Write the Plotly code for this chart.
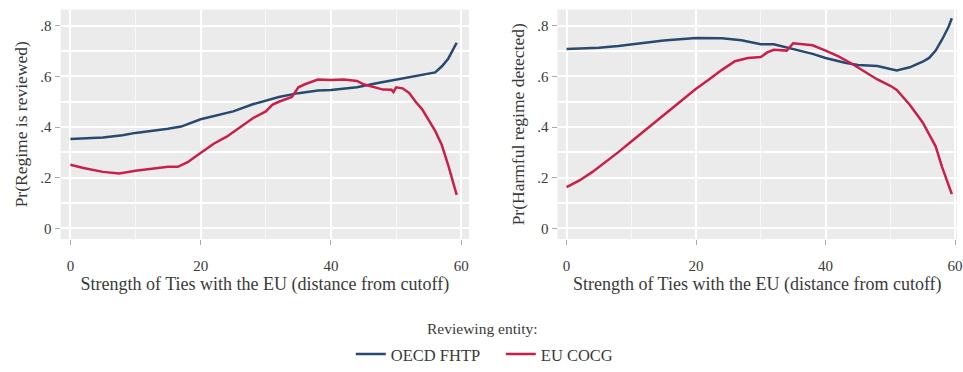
import plotly.graph_objects as go

# Left panel: Pr(Regime is reviewed)
l_oecd_x = [0, 5, 8, 10, 15, 17, 20, 25, 28, 30, 32, 35, 38, 40, 44, 47, 50, 53, 56, 57, 58, 59.3]
l_oecd_y = [0.353, 0.359, 0.368, 0.377, 0.393, 0.402, 0.431, 0.462, 0.490, 0.503, 0.519, 0.534, 0.544,
            0.546, 0.557, 0.573, 0.588, 0.601, 0.616, 0.639, 0.670, 0.733]
l_eu_x = [0, 2, 5, 7.5, 10, 13, 15, 16.5, 18, 19, 20, 21, 22, 24, 26, 28, 30, 31, 32, 34, 35, 36, 38, 40,
          42, 44, 45, 47, 48, 49.3, 49.6, 50, 51, 52, 53, 54, 55, 56, 57, 58, 59.3]
l_eu_y = [0.251, 0.238, 0.223, 0.217, 0.227, 0.238, 0.243, 0.243, 0.261, 0.280, 0.299, 0.317, 0.334,
          0.362, 0.400, 0.435, 0.462, 0.488, 0.500, 0.519, 0.557, 0.569, 0.588, 0.586, 0.588, 0.582,
          0.569, 0.553, 0.548, 0.547, 0.538, 0.557, 0.553, 0.535, 0.500, 0.470, 0.430, 0.385, 0.330,
          0.250, 0.132]

# Right panel: Pr(Harmful regime detected)
r_oecd_x = [0, 5, 8, 10, 15, 20, 24, 27, 29, 30, 32, 35, 38, 40, 43, 45, 48, 50, 51, 53, 55, 56, 57,
            58, 59, 59.5]
r_oecd_y = [0.708, 0.713, 0.720, 0.727, 0.742, 0.752, 0.751, 0.743, 0.733, 0.727, 0.727, 0.708, 0.689,
            0.673, 0.654, 0.645, 0.641, 0.629, 0.624, 0.636, 0.658, 0.673, 0.702, 0.746, 0.796, 0.830]
r_eu_x = [0, 2, 4, 6, 8, 10, 12, 14, 16, 18, 20, 22, 24, 26, 28, 30, 31, 32, 34, 35, 38, 40, 42, 44,
          46, 48, 50, 51, 53, 55, 57, 58, 59.5]
r_eu_y = [0.163, 0.189, 0.223, 0.261, 0.301, 0.343, 0.384, 0.427, 0.466, 0.510, 0.551, 0.588, 0.626,
          0.660, 0.673, 0.677, 0.695, 0.705, 0.702, 0.731, 0.723, 0.702, 0.679, 0.651, 0.620, 0.588,
          0.563, 0.547, 0.488, 0.418, 0.324, 0.242, 0.135]

series_names = ["OECD FHTP", "EU COCG"]
colors = ["#284a70", "#c9204a"]
x_title = "Strength of Ties with the EU (distance from cutoff)"
y_titles = ["Pr(Regime is reviewed)", "Pr(Harmful regime detected)"]
legend_title = "Reviewing entity:"
x_ticks = [0, 20, 40, 60]
y_tickvals = [0, 0.2, 0.4, 0.6, 0.8]
y_ticktext = ["0", ".2", ".4", ".6", ".8"]

FONT = "Liberation Serif, Times New Roman, serif"
TXT = "#3a3a3a"
fig = go.Figure()
panels = [(l_oecd_x, l_oecd_y, l_eu_x, l_eu_y, "x", "y"),
          (r_oecd_x, r_oecd_y, r_eu_x, r_eu_y, "x2", "y2")]
for i, (ox, oy, ex, ey, xa, ya) in enumerate(panels):
    fig.add_trace(go.Scatter(x=ox, y=oy, mode="lines", name=series_names[0],
                             line=dict(color=colors[0], width=2.5), xaxis=xa, yaxis=ya,
                             showlegend=(i == 0)))
    fig.add_trace(go.Scatter(x=ex, y=ey, mode="lines", name=series_names[1],
                             line=dict(color=colors[1], width=2.5), xaxis=xa, yaxis=ya,
                             showlegend=(i == 0)))

W, H = 963, 372
xcommon = dict(tickvals=x_ticks, ticks="outside", ticklen=5, tickcolor="#aaaaaa",
               showline=False, zeroline=False, showgrid=True, gridcolor="white", gridwidth=1.5,
               minor=dict(tickvals=[10, 30, 50], showgrid=True, gridcolor="#f7f7f7", gridwidth=1, ticks=""),
               tickfont=dict(size=15, color=TXT, family=FONT), ticklabelstandoff=8,
               ticklabeloverflow="allow",
               title=dict(text=x_title, font=dict(size=18, color=TXT, family=FONT), standoff=1))
ycommon = dict(tickvals=y_tickvals, ticktext=y_ticktext, ticks="outside", ticklen=5,
               tickcolor="#aaaaaa", showline=False, zeroline=False, showgrid=True,
               gridcolor="white", gridwidth=1.5,
               minor=dict(tickvals=[0.1, 0.3, 0.5, 0.7], showgrid=True, gridcolor="white", gridwidth=1.5, ticks=""),
               range=[-0.042, 0.864],
               tickfont=dict(size=15, color=TXT, family=FONT),
               domain=[1 - 249 / H, 1 - 10 / H])

fig.update_layout(
    width=W, height=H,
    margin=dict(l=0, r=0, t=0, b=0),
    paper_bgcolor="white", plot_bgcolor="#ebebeb",
    font=dict(family=FONT, color=TXT),
    xaxis=dict(xcommon, domain=[61 / W, 472 / W], range=[-1.5, 61.2], anchor="y"),
    yaxis=dict(ycommon, anchor="x",
               title=dict(text=y_titles[0], font=dict(size=17.5, color=TXT, family=FONT), standoff=8)),
    xaxis2=dict(xcommon, domain=[561 / W, 1.0], range=[-1.4, 60.3], anchor="y2"),
    yaxis2=dict(ycommon, anchor="x2",
                title=dict(text=y_titles[1], font=dict(size=17.5, color=TXT, family=FONT), standoff=8)),
    legend=dict(orientation="h", x=353 / W, xanchor="left", y=(372 - 351) / H, yanchor="top",
                font=dict(size=16.5, color=TXT, family=FONT),
                entrywidth=105, itemwidth=30, bgcolor="rgba(0,0,0,0)"),
    annotations=[dict(text=legend_title, xref="paper", yref="paper", x=486 / W, y=(372 - 342) / H,
                      xanchor="center", yanchor="middle", showarrow=False,
                      font=dict(size=15.5, color=TXT, family=FONT))],
)

fig.write_html("out.html")
